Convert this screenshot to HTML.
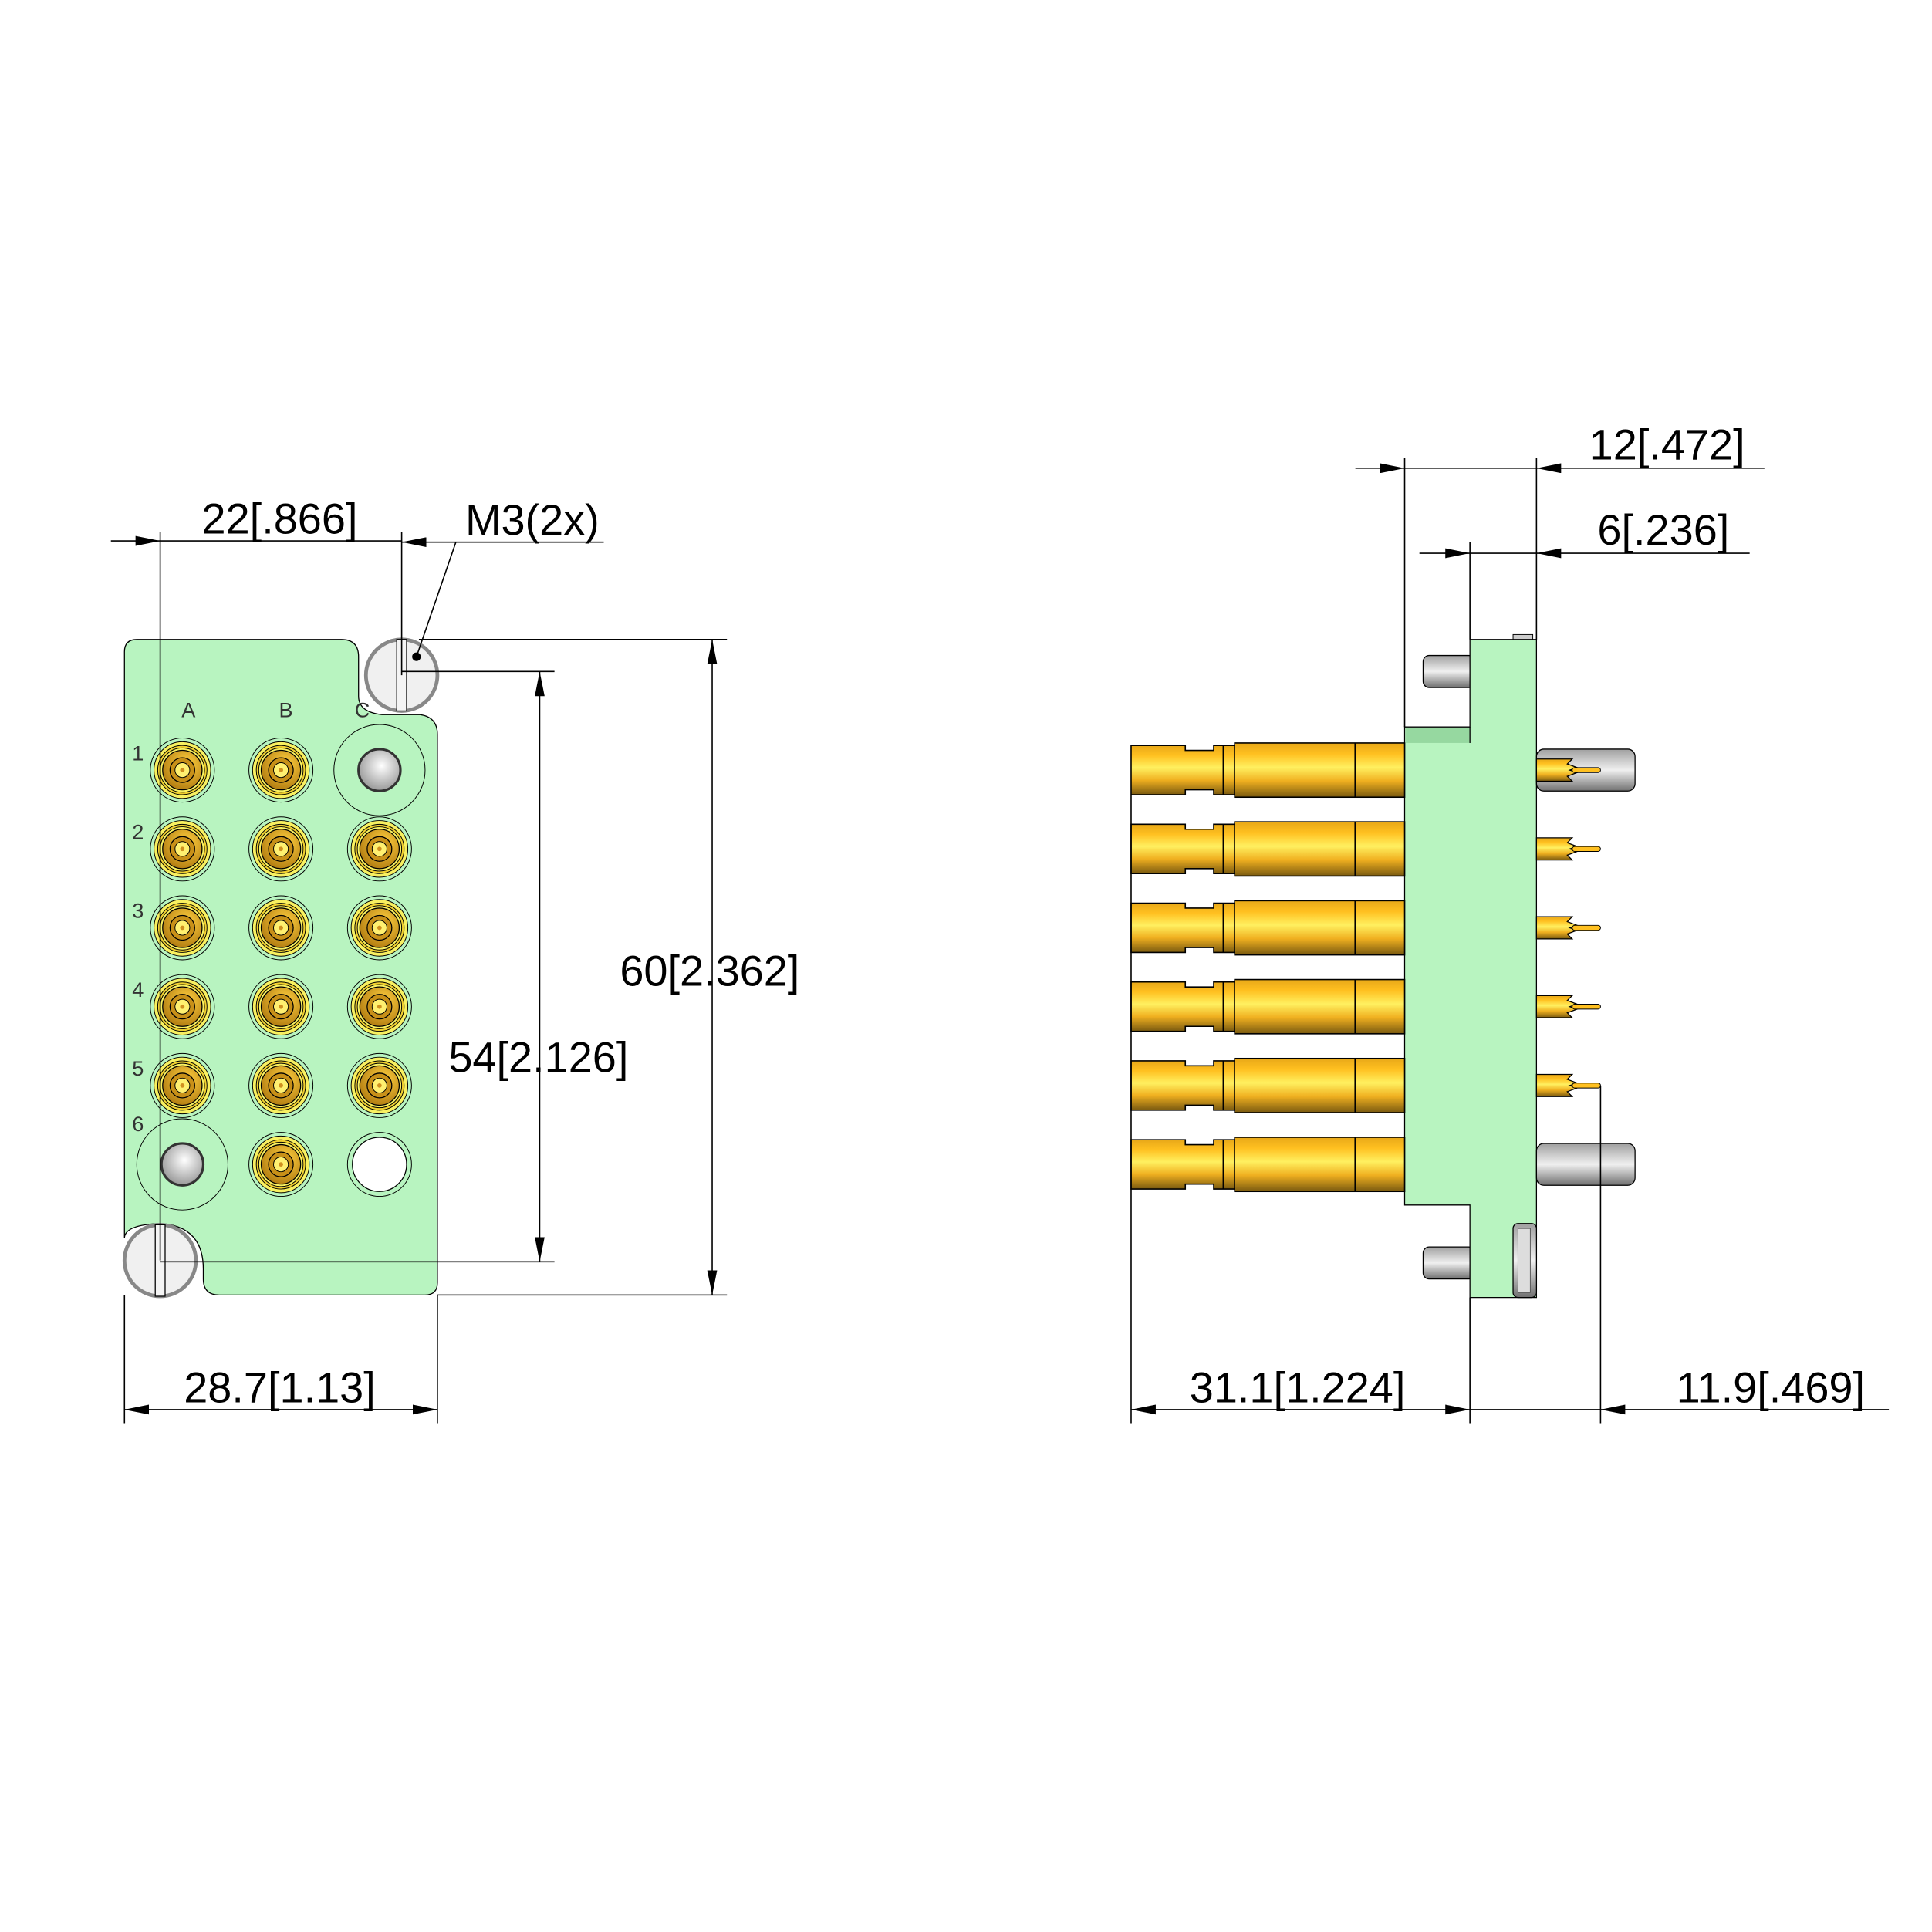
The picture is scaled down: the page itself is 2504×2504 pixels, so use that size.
<!DOCTYPE html>
<html><head><meta charset="utf-8"><style>html,body{margin:0;padding:0;background:#fff}svg{display:block}</style></head>
<body>
<svg width="2504" height="2504" viewBox="0 0 1568 1568" xmlns="http://www.w3.org/2000/svg" font-family="Liberation Sans, sans-serif">
<defs>
<linearGradient id="gv" x1="0" y1="0" x2="0" y2="1">
<stop offset="0" stop-color="#e8a818"/><stop offset="0.2" stop-color="#ffc020"/><stop offset="0.45" stop-color="#fff060"/><stop offset="0.7" stop-color="#f0b020"/><stop offset="1" stop-color="#7a5a10"/></linearGradient>
<linearGradient id="sv" x1="0" y1="0" x2="0" y2="1">
<stop offset="0" stop-color="#a0a0a0"/><stop offset="0.5" stop-color="#f0f0f0"/><stop offset="1" stop-color="#707070"/></linearGradient>
<radialGradient id="ball" cx="0.55" cy="0.4" r="0.6"><stop offset="0" stop-color="#fff"/><stop offset="1" stop-color="#999"/></radialGradient>
<radialGradient id="gc" cx="0.6" cy="0.35" r="0.7"><stop offset="0" stop-color="#ffd040"/><stop offset="1" stop-color="#b07a10"/></radialGradient>
<marker id="a" viewBox="0 0 20 8" refX="20" refY="4" markerWidth="20" markerHeight="8" markerUnits="userSpaceOnUse" orient="auto-start-reverse"><path d="M0,0 L20,4 L0,8 Z" fill="#000"/></marker>
<g id="c">
<circle r="26" fill="none" stroke="#000" stroke-width="0.6"/>
<circle r="23" fill="#f8f060" stroke="#000" stroke-width="0.6"/>
<circle r="20" fill="#f0d030" stroke="#000" stroke-width="0.6"/>
<circle r="18" fill="#f8f060" stroke="#000" stroke-width="0.6"/>
<circle r="16" fill="url(#gc)" stroke="#000" stroke-width="0.8"/>
<circle r="10" fill="#c89018" stroke="#000" stroke-width="0.8"/>
<circle r="6" fill="#fff070" stroke="#000" stroke-width="0.6"/>
<circle r="1.8" fill="#d09020"/>
</g>
<g id="pin">
<path d="M918,-20 H962 V-16 H985 V-20 H1002 V20 H985 V16 H962 V20 H918 Z" fill="url(#gv)" stroke="#000" stroke-width="1"/>
<line x1="993" y1="-20" x2="993" y2="20" stroke="#000" stroke-width="1.5"/>
<rect x="1002" y="-22" width="138" height="44" fill="url(#gv)" stroke="#000" stroke-width="1"/>
<line x1="1100" y1="-22" x2="1100" y2="22" stroke="#000" stroke-width="1.5"/>
</g>
<g id="tail">
<path d="M1247,-9 H1276 L1272,-5 L1280,-2 L1274,0 L1280,2 L1272,5 L1276,9 H1247 Z" fill="url(#gv)" stroke="#000" stroke-width="0.8"/>
<rect x="1276" y="-2" width="23" height="4" rx="2" fill="#ffc020" stroke="#000" stroke-width="0.6"/>
</g>
</defs>
<rect width="1568" height="1568" fill="#fff"/>

<!-- LEFT VIEW -->
<path d="M111,519 H277 Q291,519 291,533 V565 Q291,578 310,580 H341 Q355,582 355,596 V1041 Q355,1051 345,1051 H178 Q165,1051 165,1038 V1030 Q165,995 130,993 Q101,994 101,1005 V529 Q101,519 111,519 Z" fill="#b8f4c0" stroke="#000" stroke-width="0.8"/>
<circle cx="326" cy="548" r="29" fill="#f0f0f0" stroke="#888" stroke-width="3"/>
<rect x="322" y="519" width="8" height="58" fill="#f4f4f4" stroke="#000" stroke-width="0.8"/>
<circle cx="338" cy="533" r="3.5" fill="#000"/>
<circle cx="130" cy="1023" r="29" fill="#f0f0f0" stroke="#888" stroke-width="3"/>
<rect x="126" y="994" width="8" height="58" fill="#f4f4f4" stroke="#000" stroke-width="0.8"/>
<g font-size="17" fill="#333" text-anchor="middle">
<text x="153" y="582">A</text><text x="232" y="582">B</text><text x="294" y="582">C</text>
<text x="112" y="617">1</text><text x="112" y="681">2</text><text x="112" y="745">3</text><text x="112" y="809">4</text><text x="112" y="873">5</text><text x="112" y="918">6</text>
</g>
<use href="#c" x="148" y="625"/><use href="#c" x="228" y="625"/>
<circle cx="308" cy="625" r="37" fill="none" stroke="#000" stroke-width="0.6"/>
<circle cx="308" cy="625" r="17" fill="url(#ball)" stroke="#333" stroke-width="2"/>
<use href="#c" x="148" y="689"/><use href="#c" x="228" y="689"/><use href="#c" x="308" y="689"/>
<use href="#c" x="148" y="753"/><use href="#c" x="228" y="753"/><use href="#c" x="308" y="753"/>
<use href="#c" x="148" y="817"/><use href="#c" x="228" y="817"/><use href="#c" x="308" y="817"/>
<use href="#c" x="148" y="881"/><use href="#c" x="228" y="881"/><use href="#c" x="308" y="881"/>
<circle cx="148" cy="945" r="37" fill="none" stroke="#000" stroke-width="0.6"/>
<circle cx="148" cy="945" r="17" fill="url(#ball)" stroke="#333" stroke-width="2"/>
<use href="#c" x="228" y="945"/>
<circle cx="308" cy="945" r="26" fill="none" stroke="#000" stroke-width="0.6"/>
<circle cx="308" cy="945" r="22" fill="#fff" stroke="#000" stroke-width="0.8"/>

<g stroke="#000" stroke-width="1" fill="none">
<line x1="130" y1="432" x2="130" y2="1023"/>
<line x1="326" y1="432" x2="326" y2="548"/>
<line x1="90" y1="439" x2="130" y2="439" marker-end="url(#a)"/>
<line x1="130" y1="439" x2="326" y2="439"/>
<line x1="355" y1="440" x2="326" y2="440" marker-end="url(#a)"/>
<line x1="355" y1="440" x2="490" y2="440"/>
<line x1="370" y1="440" x2="338" y2="533"/>
<line x1="340" y1="519" x2="590" y2="519"/>
<line x1="355" y1="1051" x2="590" y2="1051"/>
<line x1="578" y1="519" x2="578" y2="1051" marker-start="url(#a)" marker-end="url(#a)"/>
<line x1="326" y1="545" x2="450" y2="545"/>
<line x1="130" y1="1024" x2="450" y2="1024"/>
<line x1="438" y1="545" x2="438" y2="1024" marker-start="url(#a)" marker-end="url(#a)"/>
<line x1="101" y1="1051" x2="101" y2="1155"/>
<line x1="355" y1="1051" x2="355" y2="1155"/>
<line x1="101" y1="1144" x2="355" y2="1144" marker-start="url(#a)" marker-end="url(#a)"/>
</g>
<g font-size="35" fill="#000" text-anchor="middle">
<text x="227" y="433">22[.866]</text>
<text x="432" y="434">M3(2x)</text>
<text x="576" y="800">60[2.362]</text>
<text x="437" y="870">54[2.126]</text>
<text x="227" y="1138">28.7[1.13]</text>
</g>

<!-- RIGHT VIEW -->
<rect x="1155" y="532" width="42" height="26" rx="5" fill="url(#sv)" stroke="#000" stroke-width="0.8"/>
<rect x="1155" y="1012" width="42" height="26" rx="5" fill="url(#sv)" stroke="#000" stroke-width="0.8"/>
<rect x="1228" y="515" width="16" height="10" fill="#ccc" stroke="#000" stroke-width="0.6"/>
<path d="M1197,519 H1247 V1053 H1193 V978 H1140 V590 H1193 V519 Z" fill="#b8f4c0" stroke="#000" stroke-width="0.8"/>
<rect x="1141" y="591" width="52" height="12" fill="#96d8a0"/>
<line x1="1193" y1="590" x2="1193" y2="603" stroke="#000" stroke-width="0.8"/>
<rect x="1228" y="993" width="19" height="60" rx="4" fill="url(#sv)" stroke="#000" stroke-width="0.8"/>
<rect x="1232" y="997" width="10" height="52" fill="#ddd" stroke="#555" stroke-width="0.6"/>
<rect x="1247" y="608" width="80" height="34" rx="6" fill="url(#sv)" stroke="#000" stroke-width="0.8"/>
<rect x="1247" y="928" width="80" height="34" rx="6" fill="url(#sv)" stroke="#000" stroke-width="0.8"/>
<use href="#pin" y="625"/><use href="#pin" y="689"/><use href="#pin" y="753"/><use href="#pin" y="817"/><use href="#pin" y="881"/><use href="#pin" y="945"/>
<use href="#tail" y="625"/><use href="#tail" y="689"/><use href="#tail" y="753"/><use href="#tail" y="817"/><use href="#tail" y="881"/>

<g stroke="#000" stroke-width="1" fill="none">
<line x1="1140" y1="372" x2="1140" y2="590"/>
<line x1="1247" y1="372" x2="1247" y2="519"/>
<line x1="1100" y1="380" x2="1140" y2="380" marker-end="url(#a)"/>
<line x1="1140" y1="380" x2="1247" y2="380"/>
<line x1="1432" y1="380" x2="1247" y2="380" marker-end="url(#a)"/>
<line x1="1193" y1="440" x2="1193" y2="519"/>
<line x1="1152" y1="449" x2="1193" y2="449" marker-end="url(#a)"/>
<line x1="1193" y1="449" x2="1247" y2="449"/>
<line x1="1420" y1="449" x2="1247" y2="449" marker-end="url(#a)"/>
<line x1="918" y1="645" x2="918" y2="1155"/>
<line x1="1193" y1="1053" x2="1193" y2="1155"/>
<line x1="1299" y1="881" x2="1299" y2="1155"/>
<line x1="918" y1="1144" x2="1193" y2="1144" marker-start="url(#a)" marker-end="url(#a)"/>
<line x1="1193" y1="1144" x2="1299" y2="1144"/>
<line x1="1533" y1="1144" x2="1299" y2="1144" marker-end="url(#a)"/>
</g>
<g font-size="35" fill="#000" text-anchor="middle">
<text x="1353" y="373">12[.472]</text>
<text x="1350" y="442">6[.236]</text>
<text x="1053" y="1138">31.1[1.224]</text>
<text x="1437" y="1138">11.9[.469]</text>
</g>
</svg>
</body></html>
